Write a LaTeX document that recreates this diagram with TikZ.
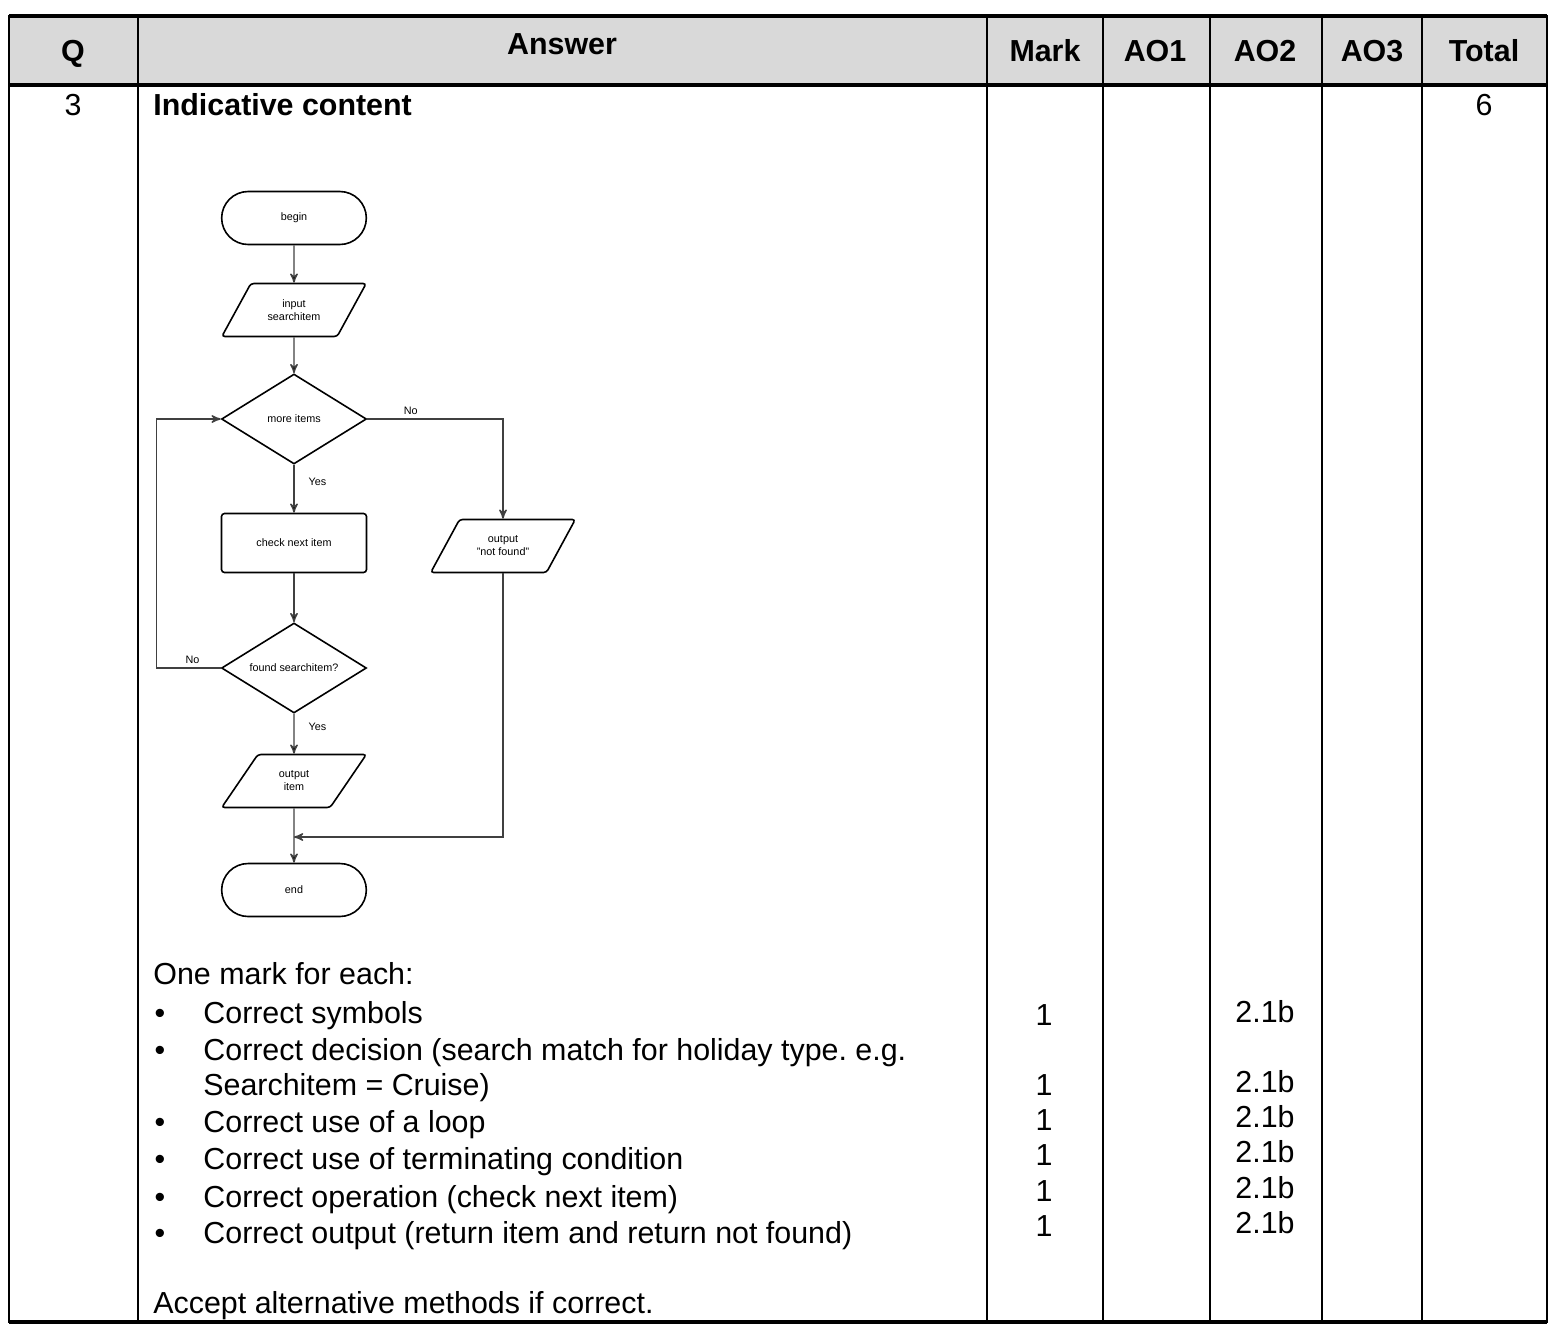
\documentclass[tikz,border=0pt]{standalone}
\usepackage{fontspec}
\setmainfont{Liberation Sans}
\usetikzlibrary{arrows,shapes.geometric,shapes.misc}
\frenchspacing

\newcommand{\bodyfont}{\fontsize{15.2pt}{18.3pt}\selectfont}
\newcommand{\flowfont}{\fontsize{5.4pt}{6.5pt}\selectfont}

\tikzstyle{term} = [rounded rectangle, draw, thick, minimum width=79pt,
    minimum height=26.5pt, font=\flowfont]
\tikzstyle{io} = [trapezium, trapezium left angle=57, trapezium right angle=123,
    trapezium stretches=true, draw, thick, rounded corners=1.5pt,
    minimum width=72.5pt, minimum height=26.5pt, align=center, font=\flowfont]
\tikzstyle{proc} = [rectangle, draw, thick, rounded corners=1.5pt,
    minimum width=72.5pt, minimum height=29.5pt, font=\flowfont]
\tikzstyle{dec} = [diamond, draw, thick, aspect=1.6, inner sep=0pt,
    minimum width=72.5pt, minimum height=45pt, font=\flowfont]
\tikzstyle{conn} = [->, draw=black!75, line width=0.7pt]
\tikzstyle{lbl} = [font=\flowfont, inner sep=1pt]
\tikzstyle{grid} = [line width=0.8pt]
\tikzstyle{rule} = [line width=1.6pt]
\tikzstyle{hd} = [font=\bodyfont\bfseries, inner sep=0pt, anchor=base]
\tikzstyle{txt} = [font=\bodyfont, inner sep=0pt, anchor=base west]
\tikzstyle{num} = [font=\bodyfont, inner sep=0pt, anchor=base]

\begin{document}
\begin{tikzpicture}[x=0.5pt,y=-0.5pt,>=stealth',auto]
  \useasboundingbox (0,0) rectangle (1555,1330);

  % table
  \fill[black!15] (9,16) rectangle (1547,85);
  \draw[grid] (9,16) rectangle (1547,1322);
  \foreach \x in {138,987,1103,1210,1322,1422}
    \draw[grid] (\x,16) -- (\x,1322);
  \draw[rule] (9,16) -- (1547,16);
  \draw[rule] (9,85) -- (1547,85);
  \draw[rule] (9,1322) -- (1547,1322);

  \node[hd] (hq)    at (73,61)   {Q};
  \node[hd] (hans)  at (562,54)  {Answer};
  \node[hd] (hmark) at (1045,61) {Mark};
  \node[hd] (hao1)  at (1155,61) {AO1};
  \node[hd] (hao2)  at (1265,61) {AO2};
  \node[hd] (hao3)  at (1372,61) {AO3};
  \node[hd] (htot)  at (1484,61) {Total};

  \node[num] (qno)   at (73,115)   {3};
  \node[hd, anchor=base west] (ind) at (153,115) {Indicative content};
  \node[num] (total) at (1484,115) {6};

  % flowchart
  \node[term] (begin)    at (294,218) {begin};
  \node[io]   (input)    [node distance=46pt, below of=begin] {input\\searchitem};
  \node[dec]  (more)     [node distance=54.5pt, below of=input] {more items};
  \node[proc] (check)    [node distance=62pt, below of=more] {check next item};
  \node[io]   (notfound) [node distance=104.5pt, right of=check, yshift=-1.5pt] {output\\"not found"};
  \node[dec]  (found)    [node distance=62.5pt, below of=check] {found searchitem?};
  \node[io]   (outitem)  [node distance=56.5pt, below of=found] {output\\item};
  \node[term] (end)      [node distance=54.5pt, below of=outitem] {end};
  \coordinate (join) at (294,837);

  \path[conn] (begin) edge (input)
              (input) edge (more)
              (more) edge node[lbl, pos=0.36, xshift=6pt] (yes1) {Yes} (check)
              (check) edge (found)
              (found) edge node[lbl, pos=0.33, xshift=6pt] (yes2) {Yes} (outitem)
              (outitem) edge (end);
  \draw[conn] (more.east) -| node[lbl, pos=0.16, above, yshift=1pt] (no1) {No} (notfound.north);
  \draw[conn] (found.west) -- node[lbl, pos=0.44, above, yshift=1pt] (no2) {No} ++(-64,0) |- (more.west);
  \draw[conn] (notfound.south) |- (join);

  % marking points
  \node[txt] (each) at (153,984) {One mark for each:};
  \foreach \y in {1023,1060,1132,1169,1207,1243}
    \node[num] at (160,\y) {•};
  \node[txt] (p1)  at (203,1023) {Correct symbols};
  \node[txt] (p2)  at (203,1060) {Correct decision (search match for holiday type. e.g.};
  \node[txt] (p2b) at (203,1095) {Searchitem = Cruise)};
  \node[txt] (p3)  at (203,1132) {Correct use of a loop};
  \node[txt] (p4)  at (203,1169) {Correct use of terminating condition};
  \node[txt] (p5)  at (203,1207) {Correct operation (check next item)};
  \node[txt] (p6)  at (203,1243) {Correct output (return item and return not found)};
  \node[txt] (acc) at (153,1313) {Accept alternative methods if correct.};

  \foreach \y in {1025,1095,1130,1165,1201,1236}
    \node[num] at (1044,\y) {1};
  \foreach \y in {1022,1092,1127,1162,1198,1233}
    \node[num] at (1265,\y) {2.1b};
\end{tikzpicture}
\end{document}
